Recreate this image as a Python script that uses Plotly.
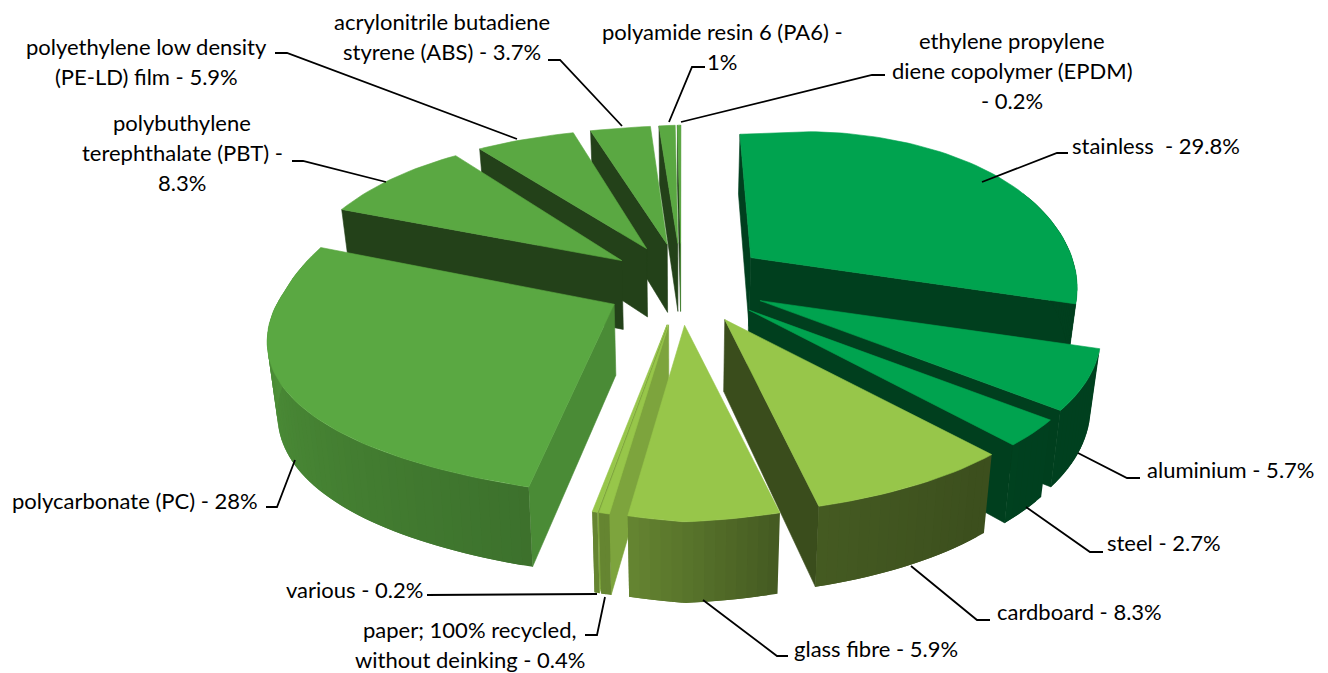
import math
import plotly.graph_objects as go

# ---- data ----
categories = ["stainless", "aluminium", "steel", "cardboard", "glass fibre",
              "paper; 100% recycled, without deinking", "various", "polycarbonate (PC)",
              "polybuthylene terephthalate (PBT)", "polyethylene low density (PE-LD) film",
              "acrylonitrile butadiene styrene (ABS)", "polyamide resin 6 (PA6)",
              "ethylene propylene diene copolymer (EPDM)"]
values = [29.8, 5.7, 2.7, 8.3, 5.9, 0.4, 0.2, 28, 8.3, 5.9, 3.7, 1, 0.2]
colors = ["#00A34F", "#00A34F", "#00A34F", "#97C64A", "#97C64A", "#97C64A", "#97C64A",
          "#5AA842", "#5AA842", "#5AA842", "#5AA842", "#5AA842", "#5AA842"]
label_lines = [
    ["stainless\u00a0\u00a0- 29.8%"], ["aluminium - 5.7%"], ["steel - 2.7%"], ["cardboard - 8.3%"],
    ["glass fibre - 5.9%"], ["paper; 100% recycled,", "without deinking - 0.4%"], ["various - 0.2%"],
    ["polycarbonate (PC) - 28%"], ["polybuthylene", "terephthalate (PBT) -", "8.3%"],
    ["polyethylene low density", "(PE-LD) film - 5.9%"],
    ["acrylonitrile butadiene", "styrene (ABS) - 3.7%"], ["polyamide resin 6 (PA6) -", "1%"],
    ["ethylene propylene", "diene copolymer (EPDM)", "- 0.2%"],
]

# ---- layout of labels (centre x, first line y, leader line) ----
label_pos = [(1156, 145), (1230, 469), (1164, 542), (1079, 611), (876, 648), (470, 629), (354, 589),
             (135, 500), (182, 122), (146, 46), (442, 21), (722, 31), (1012, 40)]
leaders = [
    [(1068, 153), (1057, 153), (982, 182)], [(1140, 478), (1127, 478), (1078, 453)],
    [(1103, 552), (1090, 552), (1026, 507)], [(990, 620), (977, 620), (911, 566)],
    [(788, 656), (777, 656), (703, 600)], [(585, 635), (597, 635), (605, 597)],
    [(427, 595), (597, 594)], [(266, 507), (277, 507), (295, 460)],
    [(292, 161), (303, 161), (386, 182)], [(275, 53), (287, 53), (517, 139)],
    [(548, 60), (560, 60), (622, 126)], [(705, 67), (692, 67), (669, 122)],
    [(885, 75), (872, 75), (681, 122)],
]
LINE_H = 30.3
FONT = "Lato"
FSIZE = 22

# ---- projection of the tilted pie ----
CX, CY, RX, EXPL = 681.0, 283.0, 337.0, 0.225


def project(X, Y, bottom=False):
    x = CX + RX * X * (1 + 0.19 * Y)
    y = CY + 183 * Y + 27 * Y ** 2 - 14 * Y ** 3 - 8 * X
    # small corrections of the camera's distortion
    y -= 31 * max(-X, 0) * max(Y, 0)
    y -= 8 * max(X, 0) * Y ** 2 if Y > 0 else 0
    x += 5 * max(-X, 0) * math.exp(-((Y - 0.3) / 0.5) ** 2)
    back = max(0.0, min(1.0, X / 0.15)) * math.exp(-((X - 0.18) / 0.3) ** 2) * max(0.0, -Y - 0.6) / 0.53
    x += 11 * back
    y += 5 * back
    r = math.hypot(X, Y)
    x += 12 * max(0.0, min(1.0, X / 0.15)) * max(0.0, 1 - (r / 0.6) ** 2)
    x += 4 * max(0.0, Y - 0.9) / 0.3
    if bottom:
        x = CX + (x - CX) * 0.975
        y += 70 + 9 * Y
    return x, y


def shade(hex_col, f):
    r, g, b = (int(hex_col[i:i + 2], 16) for i in (1, 3, 5))
    return f"rgb({int(r * f)},{int(g * f)},{int(b * f)})"


def wall_light(deg):
    pts = [(60, .38), (140, .40), (168, .46), (188, .67), (240, .80), (295, .92), (360, .92)]
    deg = max(deg, 60)
    for (a0, f0), (a1, f1) in zip(pts, pts[1:]):
        if deg <= a1:
            return f0 + (f1 - f0) * (deg - a0) / (a1 - a0)
    return .92


fig = go.Figure()


def poly(points, color, lw=0.6):
    fig.add_trace(go.Scatter(x=[p[0] for p in points] + [points[0][0]],
                             y=[p[1] for p in points] + [points[0][1]],
                             mode="lines", fill="toself", fillcolor=color,
                             line=dict(color=color, width=lw),
                             hoverinfo="skip", showlegend=False))


total = sum(values)
spans, acc = [], 0.0
for v in values:
    spans.append((acc / total * 360, (acc + v) / total * 360))
    acc += v


def rim(a, ox, oy):
    r = math.radians(a)
    return ox + math.sin(r), oy - math.cos(r)


order = sorted(range(len(values)), key=lambda i: -math.cos(math.radians(sum(spans[i]) / 2)))
for i in order:
    a0, a1 = spans[i]
    mid = math.radians((a0 + a1) / 2)
    ox, oy = EXPL * math.sin(mid), -EXPL * math.cos(mid)
    col = colors[i]
    n = max(2, int((a1 - a0) / 1.5))
    step = (a1 - a0) / n
    angs = [a0 + step * k for k in range(n + 1)]

    # radial walls: only those facing the viewer; lit when facing right, dark when facing left
    for a, sgn in ((a0, -1), (a1, 1)):
        rad = math.radians(a)
        nx, ny = sgn * math.cos(rad), sgn * math.sin(rad)
        if ny < -0.01:
            continue
        f = 0.83 if nx > 0 else 0.39
        rx, ry = rim(a, ox, oy)
        poly([project(ox, oy), project(rx, ry), project(rx, ry, True), project(ox, oy, True)], shade(col, f))
    # curved outer wall: each strip overlaps the next one, so no seams show
    for k in range(n):
        b0, b1 = angs[k], angs[k + 1]
        if 70 < (b0 + b1) / 2 < 285:
            e1 = min(b1 + step, a1)
            strip = [b0 + (e1 - b0) * t / 3 for t in range(4)]
            tops = [project(*rim(s, ox, oy)) for s in strip]
            bots = [project(*rim(s, ox, oy), True) for s in strip]
            poly(tops + bots[::-1], shade(col, wall_light((b0 + b1) / 2)), lw=0)
    # top face
    poly([project(ox, oy)] + [project(*rim(a, ox, oy)) for a in angs], col)

# leader lines
for pts in leaders:
    fig.add_trace(go.Scatter(x=[p[0] for p in pts], y=[p[1] for p in pts], mode="lines",
                             line=dict(color="black", width=1.8), hoverinfo="skip", showlegend=False))

# labels
annotations = []
for lines, (lx, ly) in zip(label_lines, label_pos):
    for k, t in enumerate(lines):
        annotations.append(dict(x=lx, y=ly + k * LINE_H, text=t, showarrow=False, xanchor="center",
                                yanchor="middle", font=dict(family=FONT, size=FSIZE, color="#000000")))

fig.update_layout(width=1328, height=673, margin=dict(l=0, r=0, t=0, b=0),
                  paper_bgcolor="white", plot_bgcolor="white", showlegend=False,
                  xaxis=dict(range=[0, 1328], visible=False, fixedrange=True),
                  yaxis=dict(range=[673, 0], visible=False, fixedrange=True),
                  annotations=annotations)
fig.write_html("out.html", post_script="document.body.style.margin='0';", config={"displayModeBar": False})
